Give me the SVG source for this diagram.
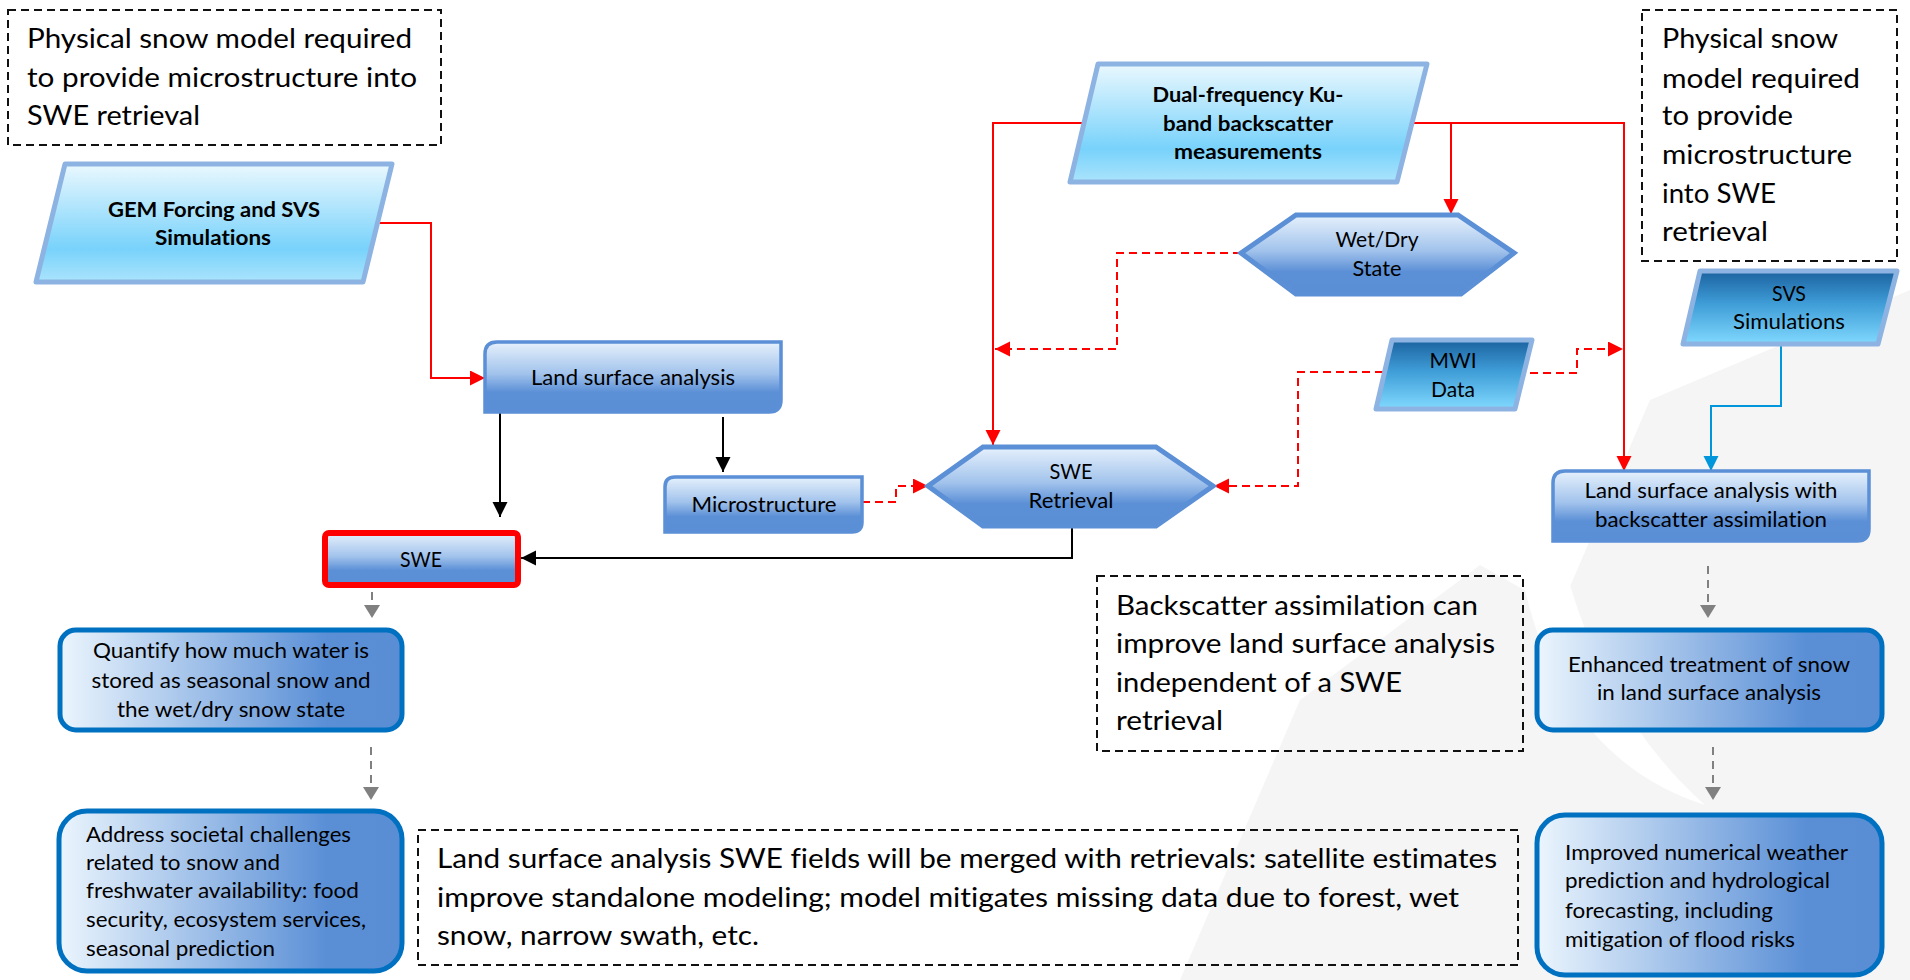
<svg xmlns="http://www.w3.org/2000/svg" width="1910" height="980" viewBox="0 0 1910 980">
<defs>
<style>
text{font-family:Lato,"Open Sans","Liberation Sans",sans-serif;fill:#000;font-variant-ligatures:none;font-feature-settings:"liga" 0,"clig" 0,"dlig" 0}
.note{font-size:26px}
.lbl{font-size:21px}
.b{font-weight:bold}
.mid{text-anchor:middle}
.dash{fill:none;stroke:#111;stroke-width:2;stroke-dasharray:8 5}
.data{fill:url(#gData);stroke:#8db3e2;stroke-width:5;stroke-linejoin:round}
.dark{fill:url(#gDark);stroke:#8db3e2;stroke-width:5;stroke-linejoin:round}
.proc{fill:url(#gProc);stroke:#5b8fd6;stroke-width:3.5}
.hex{fill:url(#gProc);stroke:#5b8fd6;stroke-width:5;stroke-linejoin:miter}
.out{fill:url(#gOut);stroke:#0070c0;stroke-width:5}
.red{fill:none;stroke:#ff0000;stroke-width:2}
.redd{fill:none;stroke:#ff0000;stroke-width:2;stroke-dasharray:8 5}
.blk{fill:none;stroke:#000;stroke-width:2}
.blu{fill:none;stroke:#0096db;stroke-width:2}
.gry{fill:none;stroke:#808080;stroke-width:2;stroke-dasharray:8 6}
</style>
<linearGradient id="gData" x1="0" y1="0" x2="0" y2="1">
<stop offset="0" stop-color="#eaf8fe"/><stop offset="0.72" stop-color="#78d2fb"/><stop offset="1" stop-color="#abe4fc"/>
</linearGradient>
<linearGradient id="gDark" x1="0" y1="0" x2="0" y2="1">
<stop offset="0" stop-color="#1b62a0"/><stop offset="0.45" stop-color="#3f9dd7"/><stop offset="1" stop-color="#80d9fe"/>
</linearGradient>
<linearGradient id="gProc" x1="0" y1="0" x2="0" y2="1">
<stop offset="0" stop-color="#e6f1fc"/><stop offset="0.45" stop-color="#a2c3ec"/><stop offset="0.72" stop-color="#5b8fd6"/><stop offset="1" stop-color="#5a8ed5"/>
</linearGradient>
<linearGradient id="gOut" x1="0" y1="0" x2="1" y2="0">
<stop offset="0" stop-color="#ebf5fd"/><stop offset="0.78" stop-color="#5a8fd6"/><stop offset="1" stop-color="#598dd4"/>
</linearGradient>
<marker id="aR" markerUnits="userSpaceOnUse" markerWidth="16" markerHeight="16" refX="15" refY="7.5" orient="auto"><path d="M0,0 L15,7.5 L0,15 z" fill="#ff0000"/></marker>
<marker id="aK" markerUnits="userSpaceOnUse" markerWidth="16" markerHeight="16" refX="15" refY="7.5" orient="auto"><path d="M0,0 L15,7.5 L0,15 z" fill="#000"/></marker>
<marker id="aB" markerUnits="userSpaceOnUse" markerWidth="16" markerHeight="16" refX="15" refY="7.5" orient="auto"><path d="M0,0 L15,7.5 L0,15 z" fill="#0096db"/></marker>
<marker id="aG" markerUnits="userSpaceOnUse" markerWidth="16" markerHeight="18" refX="13" refY="8" orient="auto"><path d="M0,0 L13,8 L0,16 z" fill="#808080"/></marker>
</defs>
<rect width="1910" height="980" fill="#fff"/>
<g id="watermark">
<path d="M1180,980 L1300,700 L1480,565 L1560,610 L1650,400 L1910,290 L1910,980 Z" fill="#f5f5f5"/>
<path d="M1525,590 Q1565,760 1705,805 Q1610,720 1570,585 Z" fill="#ffffff"/>
</g>

<g id="connectors">
<path class="red" d="M378,223 H431 V378 H485" marker-end="url(#aR)"/>
<path class="red" d="M1085,123 H993 V445" marker-end="url(#aR)"/>
<path class="red" d="M1412,123 H1624 V471" marker-end="url(#aR)"/>
<path class="red" d="M1451,123 V214" marker-end="url(#aR)"/>
<path class="redd" d="M1241,253 H1117 V349 H995" marker-end="url(#aR)"/>
<path class="redd" d="M1383,372 H1298 V486 H1214" marker-end="url(#aR)"/>
<path class="redd" d="M1530,373 H1577 V349 H1623" marker-end="url(#aR)"/>
<path class="redd" d="M862,502 H896 V486 H928" marker-end="url(#aR)"/>
<path class="blk" d="M500,413 V517" marker-end="url(#aK)"/>
<path class="blk" d="M723,417 V472" marker-end="url(#aK)"/>
<path class="blk" d="M1072,526 V558 H521" marker-end="url(#aK)"/>
<path class="blu" d="M1781,344 V406 H1711 V471" marker-end="url(#aB)"/>
<path class="gry" d="M372,592 V618" marker-end="url(#aG)"/>
<path class="gry" d="M371,747 V800" marker-end="url(#aG)"/>
<path class="gry" d="M1708,566 V618" marker-end="url(#aG)"/>
<path class="gry" d="M1713,747 V800" marker-end="url(#aG)"/>
</g>

<g id="note-left">
<rect class="dash" x="8" y="10" width="433" height="135"/>
<text class="note" x="27" y="48" textLength="385" lengthAdjust="spacingAndGlyphs">Physical snow model required</text>
<text class="note" x="27" y="87" textLength="390" lengthAdjust="spacingAndGlyphs">to provide microstructure into</text>
<text class="note" x="27" y="125" textLength="173" lengthAdjust="spacingAndGlyphs">SWE retrieval</text>
</g>

<g id="note-right">
<rect class="dash" x="1642" y="10" width="255" height="251"/>
<text class="note" x="1662" y="48" textLength="176" lengthAdjust="spacingAndGlyphs">Physical snow</text>
<text class="note" x="1662" y="88" textLength="198" lengthAdjust="spacingAndGlyphs">model required</text>
<text class="note" x="1662" y="125" textLength="131" lengthAdjust="spacingAndGlyphs">to provide</text>
<text class="note" x="1662" y="164" textLength="190" lengthAdjust="spacingAndGlyphs">microstructure</text>
<text class="note" x="1662" y="203" textLength="114" lengthAdjust="spacingAndGlyphs">into SWE</text>
<text class="note" x="1662" y="241" textLength="106" lengthAdjust="spacingAndGlyphs">retrieval</text>
</g>

<g id="note-middle">
<rect class="dash" x="1097" y="576" width="426" height="175"/>
<text class="note" x="1116" y="615" textLength="362" lengthAdjust="spacingAndGlyphs">Backscatter assimilation can</text>
<text class="note" x="1116" y="653" textLength="379" lengthAdjust="spacingAndGlyphs">improve land surface analysis</text>
<text class="note" x="1116" y="692" textLength="286" lengthAdjust="spacingAndGlyphs">independent of a SWE</text>
<text class="note" x="1116" y="730" textLength="107" lengthAdjust="spacingAndGlyphs">retrieval</text>
</g>

<g id="note-bottom">
<rect class="dash" x="418" y="830" width="1100" height="135"/>
<text class="note" x="437" y="868" textLength="1060" lengthAdjust="spacingAndGlyphs">Land surface analysis SWE fields will be merged with retrievals: satellite estimates</text>
<text class="note" x="437" y="907" textLength="1022" lengthAdjust="spacingAndGlyphs">improve standalone modeling; model mitigates missing data due to forest, wet</text>
<text class="note" x="437" y="945" textLength="322" lengthAdjust="spacingAndGlyphs">snow, narrow swath, etc.</text>
</g>

<g id="gem">
<polygon class="data" points="65,164 392,164 363,282 36,282"/>
<text class="lbl b mid" x="214" y="217" textLength="212" lengthAdjust="spacingAndGlyphs">GEM Forcing and SVS</text>
<text class="lbl b mid" x="213" y="245" textLength="116" lengthAdjust="spacingAndGlyphs">Simulations</text>
</g>

<g id="dual">
<polygon class="data" points="1098,64 1427,64 1397,182 1070,182"/>
<text class="lbl b mid" x="1248" y="102" textLength="191" lengthAdjust="spacingAndGlyphs">Dual-frequency Ku-</text>
<text class="lbl b mid" x="1248" y="131" textLength="170" lengthAdjust="spacingAndGlyphs">band backscatter</text>
<text class="lbl b mid" x="1248" y="159" textLength="148" lengthAdjust="spacingAndGlyphs">measurements</text>
</g>

<g id="wetdry">
<polygon class="hex" points="1241,253 1296,215 1458,215 1514,253 1461,294 1296,294"/>
<text class="lbl mid" x="1377" y="247" textLength="83" lengthAdjust="spacingAndGlyphs">Wet/Dry</text>
<text class="lbl mid" x="1377" y="276" textLength="49" lengthAdjust="spacingAndGlyphs">State</text>
</g>

<g id="lsa">
<path class="proc" d="M497,342 H781 V400 Q781,412 769,412 H485 V354 Q485,342 497,342 Z"/>
<text class="lbl mid" x="633" y="385" textLength="204" lengthAdjust="spacingAndGlyphs">Land surface analysis</text>
</g>

<g id="microstructure">
<path class="proc" d="M675,477 H862 V522 Q862,532 852,532 H665 V487 Q665,477 675,477 Z"/>
<text class="lbl mid" x="764" y="512" textLength="145" lengthAdjust="spacingAndGlyphs">Microstructure</text>
</g>

<g id="swe">
<rect x="325" y="533" width="193" height="52" rx="4" fill="url(#gProc)" stroke="#ff0000" stroke-width="6"/>
<text class="lbl mid" x="421" y="567" textLength="42" lengthAdjust="spacingAndGlyphs">SWE</text>
</g>

<g id="swe-retrieval">
<polygon class="hex" points="928,486 983,447 1156,447 1213,486 1156,526 983,526"/>
<text class="lbl mid" x="1071" y="479" textLength="43" lengthAdjust="spacingAndGlyphs">SWE</text>
<text class="lbl mid" x="1071" y="508" textLength="85" lengthAdjust="spacingAndGlyphs">Retrieval</text>
</g>

<g id="mwi">
<polygon class="dark" points="1392,340 1532,340 1515,409 1376,409"/>
<text class="lbl mid" x="1453" y="368" textLength="47" lengthAdjust="spacingAndGlyphs">MWI</text>
<text class="lbl mid" x="1453" y="397" textLength="44" lengthAdjust="spacingAndGlyphs">Data</text>
</g>

<g id="svs">
<polygon class="dark" points="1700,271 1897,271 1878,344 1683,344"/>
<text class="lbl mid" x="1789" y="301" textLength="34" lengthAdjust="spacingAndGlyphs">SVS</text>
<text class="lbl mid" x="1789" y="329" textLength="112" lengthAdjust="spacingAndGlyphs">Simulations</text>
</g>

<g id="lsa-backscatter">
<path class="proc" d="M1565,471 H1869 V529 Q1869,541 1857,541 H1553 V483 Q1553,471 1565,471 Z"/>
<text class="lbl mid" x="1711" y="498" textLength="253" lengthAdjust="spacingAndGlyphs">Land surface analysis with</text>
<text class="lbl mid" x="1711" y="527" textLength="232" lengthAdjust="spacingAndGlyphs">backscatter assimilation</text>
</g>

<g id="quantify">
<rect class="out" x="60" y="630" width="342" height="100" rx="16"/>
<text class="lbl mid" x="231" y="658" textLength="276" lengthAdjust="spacingAndGlyphs">Quantify how much water is</text>
<text class="lbl mid" x="231" y="688" textLength="279" lengthAdjust="spacingAndGlyphs">stored as seasonal snow and</text>
<text class="lbl mid" x="231" y="717" textLength="228" lengthAdjust="spacingAndGlyphs">the wet/dry snow state</text>
</g>

<g id="address">
<rect class="out" x="59" y="811" width="343" height="160" rx="28"/>
<text class="lbl" x="86" y="842" textLength="265" lengthAdjust="spacingAndGlyphs">Address societal challenges</text>
<text class="lbl" x="86" y="870" textLength="194" lengthAdjust="spacingAndGlyphs">related to snow and</text>
<text class="lbl" x="86" y="898" textLength="273" lengthAdjust="spacingAndGlyphs">freshwater availability: food</text>
<text class="lbl" x="86" y="927" textLength="280" lengthAdjust="spacingAndGlyphs">security, ecosystem services,</text>
<text class="lbl" x="86" y="956" textLength="189" lengthAdjust="spacingAndGlyphs">seasonal prediction</text>
</g>

<g id="enhanced">
<rect class="out" x="1537" y="630" width="345" height="100" rx="16"/>
<text class="lbl mid" x="1709" y="672" textLength="282" lengthAdjust="spacingAndGlyphs">Enhanced treatment of snow</text>
<text class="lbl mid" x="1709" y="700" textLength="224" lengthAdjust="spacingAndGlyphs">in land surface analysis</text>
</g>

<g id="improved">
<rect class="out" x="1537" y="815" width="345" height="160" rx="28"/>
<text class="lbl" x="1565" y="860" textLength="283" lengthAdjust="spacingAndGlyphs">Improved numerical weather</text>
<text class="lbl" x="1565" y="888" textLength="265" lengthAdjust="spacingAndGlyphs">prediction and hydrological</text>
<text class="lbl" x="1565" y="918" textLength="208" lengthAdjust="spacingAndGlyphs">forecasting, including</text>
<text class="lbl" x="1565" y="947" textLength="230" lengthAdjust="spacingAndGlyphs">mitigation of flood risks</text>
</g>
</svg>
